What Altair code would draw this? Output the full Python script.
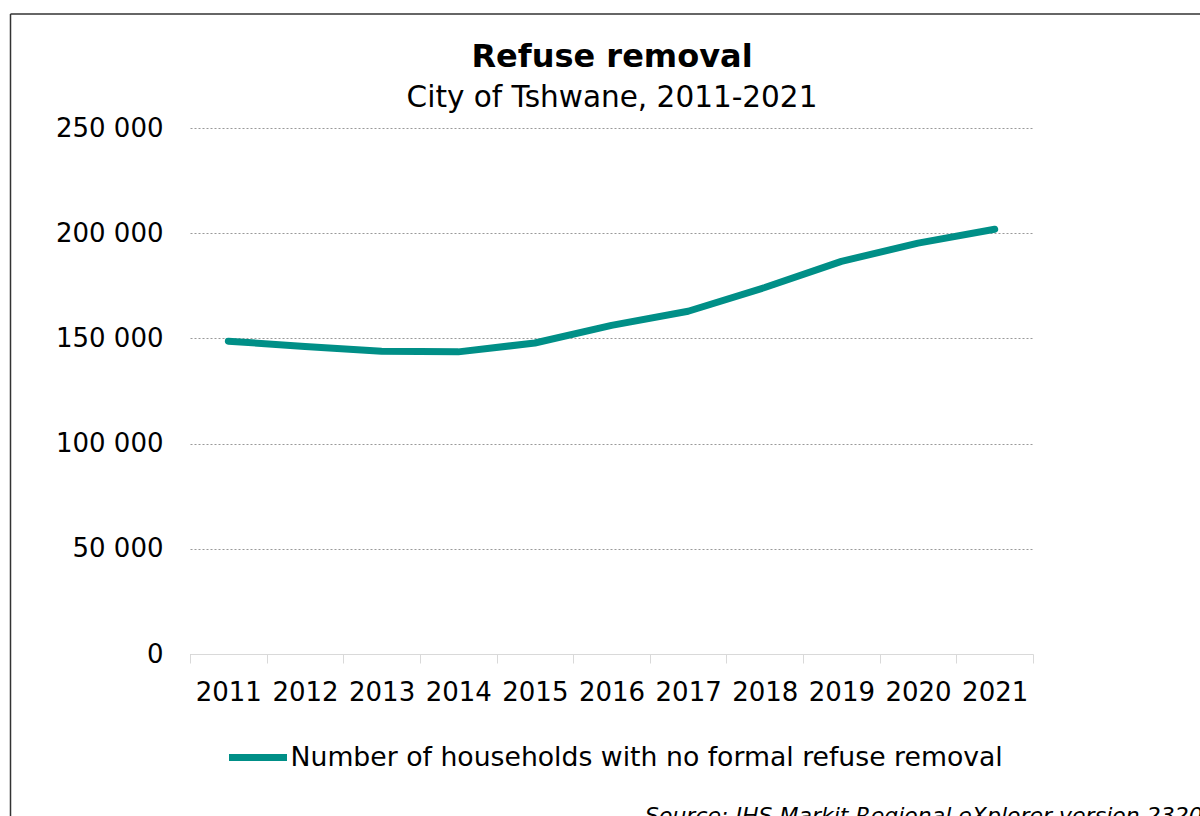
import altair as alt
import pandas as pd

years = ["2011", "2012", "2013", "2014", "2015", "2016", "2017", "2018", "2019", "2020", "2021"]
households = [148700, 146200, 143900, 143600, 147800, 156200, 162900, 174200, 186600, 195300, 201900]
series_name = "Number of households with no formal refuse removal"
y_ticks = [0, 50000, 100000, 150000, 200000, 250000]
title_text = "Refuse removal"
subtitle_text = "City of Tshwane, 2011-2021"
source_text = "Source: IHS Markit Regional eXplorer version 2320"

TEAL = "#008F87"
FONT = "DejaVu Sans"

df = pd.DataFrame({"year": years, "value": households, "series": [series_name] * len(years)})

line = alt.Chart(df).mark_line(strokeWidth=7, strokeCap="round", strokeJoin="round").encode(
    x=alt.X(
        "year:O",
        bandPosition=0.5,
        scale=alt.Scale(type="band", paddingInner=0, paddingOuter=0),
        axis=alt.Axis(
            title=None,
            labelAngle=0,
            labelFont=FONT,
            labelFontSize=26,
            labelColor="black",
            labelPadding=16,
            tickBand="extent",
            tickSize=9,
            tickColor="#d9d9d9",
            domainColor="#d9d9d9",
            domainWidth=1,
            grid=False,
        ),
    ),
    y=alt.Y(
        "value:Q",
        scale=alt.Scale(domain=[0, 250000], nice=False, zero=True),
        axis=alt.Axis(
            title=None,
            values=y_ticks,
            labelExpr="replace(format(datum.value, ','), ',', ' ')",
            labelFont=FONT,
            labelFontSize=26,
            labelColor="black",
            labelPadding=27,
            ticks=False,
            domain=False,
            grid=True,
            gridColor="#999999",
            gridDash=[2, 2],
            gridWidth=1,
        ),
    ),
    color=alt.Color(
        "series:N",
        scale=alt.Scale(range=[TEAL]),
        legend=alt.Legend(
            title=None,
            orient="none",
            legendX=35.5,
            legendY=597,
            padding=0,
            symbolType="stroke",
            symbolSize=3364,
            symbolStrokeWidth=7,
            symbolStrokeColor=TEAL,
            labelFont=FONT,
            labelFontSize=26.7,
            labelColor="black",
            labelOffset=0,
            labelLimit=0,
        ),
    ),
)

title = alt.Chart(pd.DataFrame({"t": [title_text]})).mark_text(
    font=FONT, fontSize=32, fontWeight="bold", color="black", align="center", baseline="alphabetic"
).encode(text="t:N", x=alt.value(422), y=alt.value(-60.7))

subtitle = alt.Chart(pd.DataFrame({"t": [subtitle_text]})).mark_text(
    font=FONT, fontSize=29.5, color="black", align="center", baseline="alphabetic"
).encode(text="t:N", x=alt.value(422), y=alt.value(-20.7))

source = alt.Chart(pd.DataFrame({"t": [source_text]})).mark_text(
    font=FONT, fontSize=22, fontStyle="italic", color="black", align="left", baseline="alphabetic"
).encode(text="t:N", x=alt.value(455), y=alt.value(695))

frame_data = pd.DataFrame({"k": [0]})
left_border = alt.Chart(frame_data).mark_rule(color="#333333", strokeWidth=1.5).encode(
    x=alt.value(-179.5), y=alt.value(-114), y2=alt.value(700)
)
top_border = alt.Chart(frame_data).mark_rule(color="#333333", strokeWidth=1.5).encode(
    x=alt.value(-179.5), x2=alt.value(1020), y=alt.value(-114)
)

chart = (
    alt.layer(line, title, subtitle, source, left_border, top_border)
    .properties(
        width=843,
        height=526,
        autosize=alt.AutoSizeParams(type="none"),
        padding={"left": 190, "top": 128, "right": 167, "bottom": 162},
        background="white",
    )
    .configure(font=FONT)
    .configure_view(stroke=None, strokeWidth=0)
)

chart.save("out.html", embed_options={"renderer": "svg", "actions": False})
